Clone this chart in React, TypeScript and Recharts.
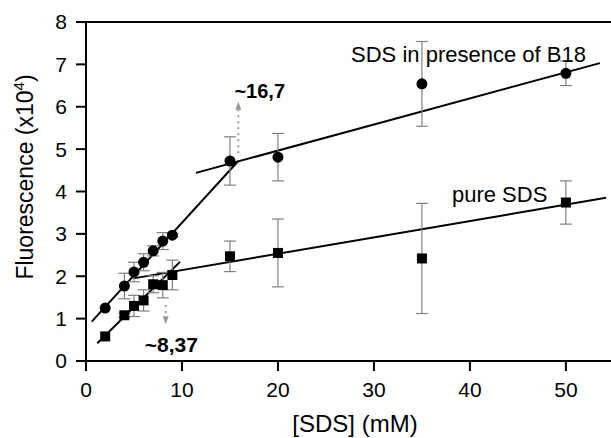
import {
  ComposedChart,
  ErrorBar,
  Label,
  Line,
  ReferenceDot,
  ReferenceLine,
  Scatter,
  XAxis,
  YAxis,
} from "recharts";

// [SDS] in mM
const concB18 = [2, 4, 5, 6, 7, 8, 9, 15, 20, 35, 50];
const fluoB18 = [1.25, 1.77, 2.1, 2.33, 2.6, 2.83, 2.97, 4.72, 4.81, 6.54, 6.79];
const errB18 = [0, 0.3, 0.23, 0.2, 0.12, 0.2, 0.04, 0.57, 0.56, 1.0, 0.29];

const concPure = [2, 4, 5, 6, 7, 8, 9, 15, 20, 35, 50];
const fluoPure = [0.58, 1.08, 1.3, 1.43, 1.81, 1.79, 2.03, 2.47, 2.55, 2.42, 3.74];
const errPure = [0, 0.05, 0.25, 0.25, 0.2, 0.3, 0.35, 0.36, 0.8, 1.3, 0.51];

// fitted straight lines (start / end points)
const fitB18Steep = [
  { x: 0.6, y: 0.93 },
  { x: 15.87, y: 4.72 },
];
const fitB18Flat = [
  { x: 11.46, y: 4.44 },
  { x: 53.55, y: 7.03 },
];
const fitPureSteep = [
  { x: 1.18, y: 0.42 },
  { x: 9.79, y: 2.34 },
];
const fitPureFlat = [
  { x: 4.93, y: 1.95 },
  { x: 54.18, y: 3.85 },
];

const xTicks = [0, 10, 20, 30, 40, 50];
const yTicks = [0, 1, 2, 3, 4, 5, 6, 7, 8];

// dotted arrows marking the breakpoints
const arrows = [
  { x: 15.87, from: 4.9, to: 6.12 },
  { x: 8.3, from: 1.32, to: 0.87 },
];

const notes = [
  { x: 39.85, y: 7.06, text: "SDS in presence of B18", bold: false, size: 22 },
  { x: 43.1, y: 3.75, text: "pure SDS", bold: false, size: 22 },
  { x: 18.1, y: 6.2, text: "~16,7", bold: true, size: 20 },
  { x: 8.9, y: 0.22, text: "~8,37", bold: true, size: 21 },
];

const b18Data = concB18.map((x, i) => ({ x, y: fluoB18[i], err: errB18[i] }));
const pureData = concPure.map((x, i) => ({ x, y: fluoPure[i], err: errPure[i] }));

const FONT = "'Liberation Sans', Arial, sans-serif";

const CircleMark = (props: any) => (
  <circle cx={props.cx} cy={props.cy} r={5.5} fill="#000" />
);
const SquareMark = (props: any) => (
  <rect x={props.cx - 5} y={props.cy - 5} width={10} height={10} fill="#000" />
);

const DottedArrow = (props: any) => {
  const { x1, y1, x2, y2 } = props;
  const dir = y2 < y1 ? -1 : 1;
  return (
    <g>
      <line
        x1={x1}
        y1={y1}
        x2={x2}
        y2={y2 - dir * 6}
        stroke="#999"
        strokeWidth={2}
        strokeDasharray="2 4"
      />
      <polygon
        points={`${x2},${y2} ${x2 - 3},${y2 - dir * 8} ${x2 + 3},${y2 - dir * 8}`}
        fill="#999"
      />
    </g>
  );
};

export default function App() {
  return (
    <div style={{ position: "absolute", left: 0, top: 0, background: "#fff" }}>
      <ComposedChart
        width={611}
        height={438}
        margin={{ top: 22, right: 0, bottom: 0, left: 0 }}
        style={{ fontFamily: FONT }}
      >
        <XAxis
          dataKey="x"
          type="number"
          domain={[0, 54.7]}
          ticks={xTicks}
          allowDataOverflow
          height={77}
          stroke="#000"
          strokeWidth={2}
          tickSize={10}
          tickMargin={11}
          tick={{ fill: "#000", fontSize: 21 }}
        >
          <Label
            content={({ viewBox }: any) => (
              <text
                x={355}
                y={viewBox.y + 71}
                textAnchor="middle"
                fontSize={24}
                fill="#000"
              >
                [SDS] (mM)
              </text>
            )}
          />
        </XAxis>
        <YAxis
          dataKey="y"
          type="number"
          domain={[0, 8]}
          ticks={yTicks}
          width={86}
          stroke="#000"
          strokeWidth={2}
          tickSize={10}
          tickMargin={9}
          tick={{ fill: "#000", fontSize: 21 }}
        >
          <Label
            content={() => (
              <text
                x={33}
                y={177}
                transform="rotate(-90, 33, 177)"
                textAnchor="middle"
                fontSize={23}
                fill="#000"
              >
                Fluorescence (x10
                <tspan dy={-9} fontSize={15}>
                  4
                </tspan>
                <tspan dy={9}>)</tspan>
              </text>
            )}
          />
        </YAxis>

        <ReferenceLine y={8} stroke="#000" strokeWidth={2} />

        {arrows.map((a, i) => (
          <ReferenceLine
            key={`arrow-${i}`}
            segment={[
              { x: a.x, y: a.from },
              { x: a.x, y: a.to },
            ]}
            shape={DottedArrow}
          />
        ))}

        <Line data={fitB18Steep} dataKey="y" stroke="#000" strokeWidth={2} dot={false} isAnimationActive={false} />
        <Line data={fitB18Flat} dataKey="y" stroke="#000" strokeWidth={2} dot={false} isAnimationActive={false} />
        <Line data={fitPureSteep} dataKey="y" stroke="#000" strokeWidth={2} dot={false} isAnimationActive={false} />
        <Line data={fitPureFlat} dataKey="y" stroke="#000" strokeWidth={2} dot={false} isAnimationActive={false} />

        <Scatter data={b18Data} dataKey="y" shape={CircleMark} isAnimationActive={false}>
          <ErrorBar dataKey="err" direction="y" width={6} stroke="#808080" strokeWidth={1.2} />
        </Scatter>
        <Scatter data={pureData} dataKey="y" shape={SquareMark} isAnimationActive={false}>
          <ErrorBar dataKey="err" direction="y" width={6} stroke="#808080" strokeWidth={1.2} />
        </Scatter>

        {notes.map((n, i) => (
          <ReferenceDot
            key={`note-${i}`}
            x={n.x}
            y={n.y}
            r={0}
            shape={(p: any) => (
              <text
                x={p.cx}
                y={p.cy}
                textAnchor="middle"
                fontSize={n.size}
                fontWeight={n.bold ? "bold" : "normal"}
                fill="#000"
              >
                {n.text}
              </text>
            )}
          />
        ))}
      </ComposedChart>
    </div>
  );
}
